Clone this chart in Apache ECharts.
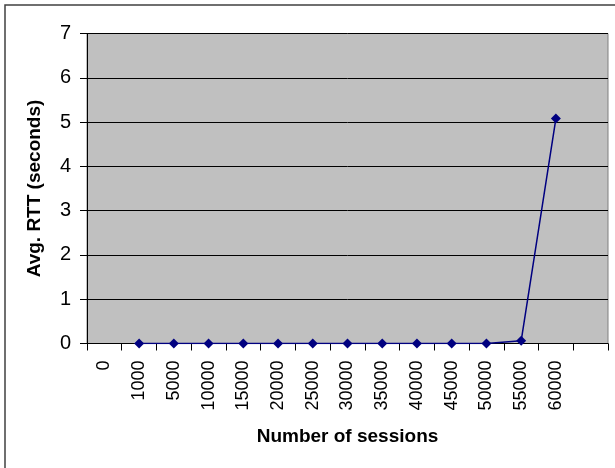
<!DOCTYPE html>
<html>
<head>
<meta charset="utf-8">
<script src="https://cdn.jsdelivr.net/npm/echarts@6/dist/echarts.min.js"></script>
<style>html,body{margin:0;padding:0;background:#fff;}#c{width:615px;height:468px;}</style>
</head>
<body>
<div id="c"></div>
<script>
var categories = ['0','1000','5000','10000','15000','20000','25000','30000','35000','40000','45000','50000','55000','60000',''];
var rttValues = [null,0,0,0,0,0,0,0,0,0,0,0,0.06,5.08,null];
var yTicks = [0,1,2,3,4,5,6,7];

var chart = echarts.init(document.getElementById('c'), null, {renderer:'canvas'});
chart.setOption({
  animation:false,
  backgroundColor:'#ffffff',
  textStyle:{fontFamily:'Liberation Sans, Arial, sans-serif'},
  graphic:[{type:'rect',shape:{x:5,y:5,width:700,height:600},style:{fill:'none',stroke:'#404040',lineWidth:1.5},z:-1}],
  grid:{left:87,top:33.5,right:7,bottom:124.5,show:true,backgroundColor:'#c0c0c0',borderColor:'#808080',borderWidth:1},
  xAxis:{
    type:'category',data:categories,boundaryGap:true,
    name:'Number of sessions',nameLocation:'middle',nameGap:84,
    nameTextStyle:{fontSize:19,fontWeight:'bold',color:'#000',fontFamily:'Liberation Sans, Arial, sans-serif'},
    axisLine:{lineStyle:{color:'#000',width:1}},
    axisTick:{show:true,alignWithLabel:false,interval:0,length:7,lineStyle:{color:'#000'}},
    axisLabel:{rotate:90,interval:0,margin:17,fontSize:18,color:'#000',fontFamily:'Liberation Sans, Arial, sans-serif'},
    splitLine:{show:false}
  },
  yAxis:{
    type:'value',min:yTicks[0],max:yTicks[yTicks.length-1],interval:1,
    name:'Avg. RTT (seconds)',nameLocation:'middle',nameGap:43,
    nameTextStyle:{fontSize:19,fontWeight:'bold',color:'#000',fontFamily:'Liberation Sans, Arial, sans-serif'},
    axisLine:{show:true,lineStyle:{color:'#000',width:1}},
    axisTick:{show:true,length:7,lineStyle:{color:'#000'}},
    axisLabel:{margin:16,fontSize:20,color:'#000',fontFamily:'Liberation Sans, Arial, sans-serif'},
    splitLine:{show:true,lineStyle:{color:'#000',width:1}}
  },
  series:[{
    type:'line',data:rttValues,connectNulls:false,
    symbol:'diamond',symbolSize:10,
    lineStyle:{color:'#000080',width:1.5},
    itemStyle:{color:'#000080'}
  }]
});
</script>
</body>
</html>
